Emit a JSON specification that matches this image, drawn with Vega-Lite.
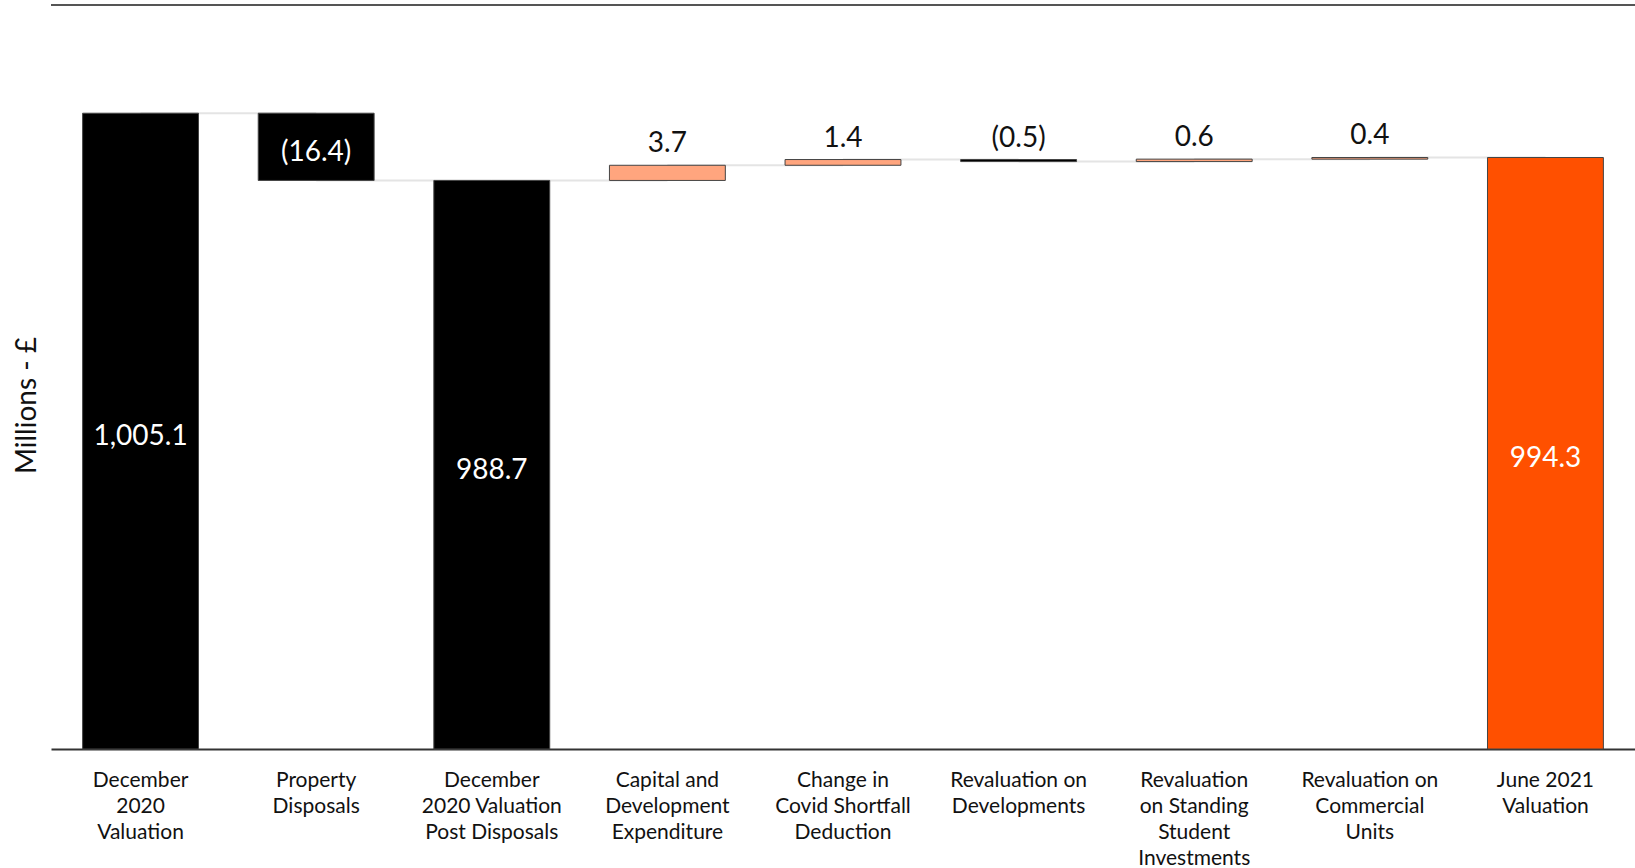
{
  "$schema": "https://vega.github.io/schema/vega-lite/v6.json",
  "width": 1584,
  "height": 744,
  "autosize": {"type": "none"},
  "padding": {"left": 51, "top": 5, "right": 0, "bottom": 119},
  "background": "white",
  "config": {"view": {"stroke": null}, "font": "Lato"},
  "data": {
    "values": [
      {"cat": "December|2020|Valuation", "next": "Property|Disposals", "start": 0, "end": 1005.1, "kind": "Total", "label": "1,005.1"},
      {"cat": "Property|Disposals", "next": "December|2020 Valuation|Post Disposals", "start": 1005.1, "end": 988.7, "kind": "Decrease", "label": "(16.4)"},
      {"cat": "December|2020 Valuation|Post Disposals", "next": "Capital and|Development|Expenditure", "start": 0, "end": 988.7, "kind": "Total", "label": "988.7"},
      {"cat": "Capital and|Development|Expenditure", "next": "Change in|Covid Shortfall|Deduction", "start": 988.7, "end": 992.4, "kind": "Increase", "label": "3.7"},
      {"cat": "Change in|Covid Shortfall|Deduction", "next": "Revaluation on|Developments", "start": 992.4, "end": 993.8, "kind": "Increase", "label": "1.4"},
      {"cat": "Revaluation on|Developments", "next": "Revaluation|on Standing|Student|Investments", "start": 993.8, "end": 993.3, "kind": "Decrease", "label": "(0.5)"},
      {"cat": "Revaluation|on Standing|Student|Investments", "next": "Revaluation on|Commercial|Units", "start": 993.3, "end": 993.9, "kind": "Increase", "label": "0.6"},
      {"cat": "Revaluation on|Commercial|Units", "next": "June 2021|Valuation", "start": 993.9, "end": 994.3, "kind": "Increase", "label": "0.4"},
      {"cat": "June 2021|Valuation", "next": null, "start": 0, "end": 994.3, "kind": "Final", "label": "994.3"}
    ]
  },
  "resolve": {"scale": {"y": "independent"}},
  "layer": [
    {
      "layer": [
        {
          "transform": [{"filter": "datum.next != null"}],
          "mark": {"type": "rule", "color": "#e4e4e4", "strokeWidth": 2},
          "encoding": {
            "x": {"field": "cat", "type": "nominal", "sort": null},
            "x2": {"field": "next"},
            "y": {
              "field": "end",
              "type": "quantitative",
              "scale": {"domain": [850, 1031.5], "zero": false, "clamp": true, "nice": false},
              "axis": {
                "title": "Millions - £",
                "titleFont": "Lato",
                "titleFontSize": 28,
                "titleFontWeight": "normal",
                "titleColor": "#111111",
                "titleAngle": 270,
                "titleAlign": "center",
                "titleBaseline": "middle",
                "titleX": -24,
                "titleY": 400,
                "labels": false,
                "ticks": false,
                "domain": false,
                "grid": false
              }
            }
          }
        },
        {
          "mark": {"type": "bar", "stroke": "#444444", "strokeWidth": 1},
          "encoding": {
            "x": {
              "field": "cat",
              "type": "nominal",
              "sort": null,
              "scale": {"paddingInner": 0.34, "paddingOuter": 0.18},
              "axis": {
                "title": null,
                "labelExpr": "split(datum.value, '|')",
                "labelAngle": 0,
                "labelAlign": "center",
                "labelBaseline": "top",
                "labelFont": "Lato",
                "labelFontSize": 21,
                "labelLineHeight": 26,
                "labelColor": "#111111",
                "labelPadding": 20,
                "labelLimit": 0,
                "labelOverlap": false,
                "labelFlush": false,
                "ticks": false,
                "domain": true,
                "domainColor": "#333333",
                "domainWidth": 2
              }
            },
            "y": {"field": "start", "type": "quantitative"},
            "y2": {"field": "end"},
            "color": {
              "field": "kind",
              "type": "nominal",
              "scale": {"domain": ["Total", "Decrease", "Increase", "Final"], "range": ["#000000", "#000000", "#FFA57E", "#FF5000"]},
              "legend": null
            }
          }
        },
        {
          "transform": [{"filter": "datum.kind == 'Decrease' && abs(datum.end - datum.start) > 5"}],
          "mark": {"type": "text", "color": "white", "fontSize": 28, "baseline": "middle", "align": "center", "dy": 40},
          "encoding": {
            "x": {"field": "cat", "type": "nominal", "sort": null},
            "y": {"field": "start", "type": "quantitative"},
            "text": {"field": "label"}
          }
        },
        {
          "transform": [{"filter": "datum.kind == 'Increase'"}],
          "mark": {"type": "text", "color": "#111111", "fontSize": 28, "baseline": "alphabetic", "align": "center", "dy": -13},
          "encoding": {
            "x": {"field": "cat", "type": "nominal", "sort": null},
            "y": {"field": "end", "type": "quantitative"},
            "text": {"field": "label"}
          }
        },
        {
          "transform": [{"filter": "datum.kind == 'Decrease' && abs(datum.end - datum.start) <= 5"}],
          "mark": {"type": "text", "color": "#111111", "fontSize": 28, "baseline": "alphabetic", "align": "center", "dy": -13},
          "encoding": {
            "x": {"field": "cat", "type": "nominal", "sort": null},
            "y": {"field": "start", "type": "quantitative"},
            "text": {"field": "label"}
          }
        },
        {
          "data": {"values": [{}]},
          "mark": {"type": "rule", "color": "#555555", "strokeWidth": 2},
          "encoding": {"y": {"datum": 1031.5}}
        }
      ]
    },
    {
      "transform": [{"filter": "datum.kind == 'Total' || datum.kind == 'Final'"}],
      "mark": {"type": "text", "color": "white", "fontSize": 28, "baseline": "middle", "align": "center", "dy": 6},
      "encoding": {
        "x": {
          "field": "cat",
          "type": "nominal",
          "sort": null,
          "axis": {
            "title": null,
            "labelExpr": "split(datum.value, '|')",
            "labelAngle": 0,
            "labelAlign": "center",
            "labelBaseline": "top",
            "labelFont": "Lato",
            "labelFontSize": 21,
            "labelLineHeight": 26,
            "labelColor": "#111111",
            "labelPadding": 20,
            "labelLimit": 0,
            "labelOverlap": false,
            "labelFlush": false,
            "ticks": false,
            "domain": true,
            "domainColor": "#333333",
            "domainWidth": 2
          }
        },
        "y": {
          "field": "end",
          "type": "quantitative",
          "scale": {"domain": [850, 1213], "zero": false, "nice": false},
          "axis": null
        },
        "text": {"field": "label"}
      }
    }
  ]
}
